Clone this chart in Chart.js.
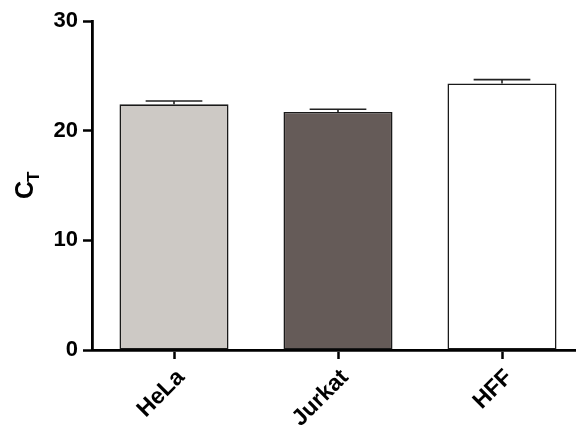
<!DOCTYPE html>
<html lang="en">
  <head>
    <meta charset="UTF-8" />
    <title>CT bar chart</title>
    <script src="https://cdn.jsdelivr.net/npm/chart.js@4"></script>
    <style>
      html, body { margin: 0; padding: 0; background: #fff; overflow: hidden; }
      #wrap { width: 600px; height: 437px; }
    </style>
  </head>
  <body>
    <div id="wrap"><canvas id="myChart" width="600" height="437"></canvas></div>

    <script>
      const cells = ["HeLa", "Jurkat", "HFF"];
      const ctValues = [22.4, 21.7, 24.3];
      const ctErrors = [0.3, 0.25, 0.35];
      const barColors = ["#cdc9c5", "#655b58", "#ffffff"];
      const yTicks = [0, 10, 20, 30];

      const FONT = "'Liberation Sans', Arial, sans-serif";

      // error bars (upper only) drawn through the scales
      const errorBars = {
        id: "errorBars",
        afterDatasetsDraw(chart) {
          const ctx = chart.ctx;
          const y = chart.scales.y;
          const meta = chart.getDatasetMeta(0);
          ctx.save();
          ctx.strokeStyle = "#222";
          ctx.lineWidth = 1.6;
          meta.data.forEach((bar, i) => {
            const top = y.getPixelForValue(ctValues[i] + ctErrors[i]);
            const half = bar.width * 0.26;
            ctx.beginPath();
            ctx.moveTo(bar.x, bar.y);
            ctx.lineTo(bar.x, top);
            ctx.moveTo(bar.x - half, top);
            ctx.lineTo(bar.x + half, top);
            ctx.stroke();
          });
          ctx.restore();
        },
      };

      // y axis title "C" with subscript "T"
      const yTitle = {
        id: "yTitle",
        afterDraw(chart) {
          const ctx = chart.ctx;
          ctx.save();
          ctx.translate(33, 199);
          ctx.rotate(-Math.PI / 2);
          ctx.fillStyle = "#000";
          ctx.textBaseline = "alphabetic";
          ctx.textAlign = "left";
          ctx.font = "bold 25px " + FONT;
          ctx.fillText("C", 0, 0);
          const w = ctx.measureText("C").width;
          ctx.font = "bold 17px " + FONT;
          ctx.fillText("T", w - 1, 6);
          ctx.restore();
        },
      };

      const ctx = document.getElementById("myChart").getContext("2d");
      new Chart(ctx, {
        type: "bar",
        data: {
          labels: cells,
          datasets: [
            {
              data: ctValues,
              backgroundColor: barColors,
              borderColor: "#1a1a1a",
              borderWidth: 1.6,
              borderSkipped: false,
              barPercentage: 0.665,
              categoryPercentage: 1,
            },
          ],
        },
        options: {
          responsive: false,
          animation: false,
          layout: { padding: { top: 21, right: 16, left: 0, bottom: 0 } },
          plugins: { legend: { display: false }, tooltip: { enabled: false } },
          scales: {
            x: {
              grid: {
                offset: false,
                drawOnChartArea: false,
                tickLength: 9,
                tickWidth: 2.5,
                tickColor: "#000",
              },
              border: { color: "#000", width: 2.8 },
              ticks: {
                color: "#000",
                font: { family: FONT, size: 23, weight: "bold" },
                minRotation: 45,
                maxRotation: 45,
                padding: 5,
                labelOffset: 7,
              },
              afterFit(scale) { scale.height = 87; },
            },
            y: {
              min: 0,
              max: 30,
              afterBuildTicks(scale) {
                scale.ticks = yTicks.map((v) => ({ value: v }));
              },
              grid: {
                drawOnChartArea: false,
                tickLength: 9,
                tickWidth: 2.5,
                tickColor: "#000",
              },
              border: { color: "#000", width: 2.8 },
              ticks: {
                color: "#000",
                font: { family: FONT, size: 22, weight: "bold" },
                padding: 5,
              },
              afterFit(scale) { scale.width = 92; },
            },
          },
        },
        plugins: [errorBars, yTitle],
      });
    </script>
  </body>
</html>
